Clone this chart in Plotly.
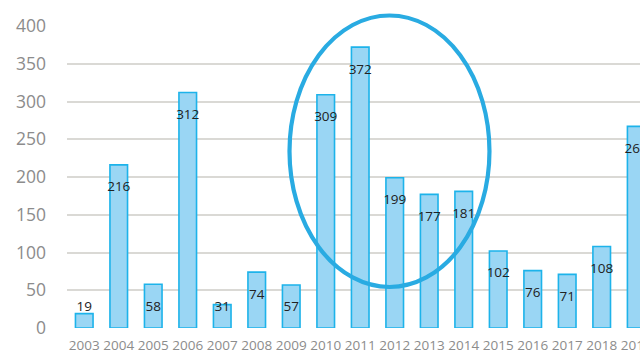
import numpy as np
import plotly.graph_objects as go

years = ["2003", "2004", "2005", "2006", "2007", "2008", "2009", "2010", "2011",
         "2012", "2013", "2014", "2015", "2016", "2017", "2018", "2019"]
counts = [19, 216, 58, 312, 31, 74, 57, 309, 372, 199, 177, 181, 102, 76, 71, 108, 267]
y_ticks = [0, 50, 100, 150, 200, 250, 300, 350, 400]

FONT = "Open Sans"
vals = np.array(counts, dtype=float)
# data labels sit just inside the top of each bar, kept above the baseline for short bars
label_y = np.maximum(vals - 30.5, 26.5)

fig = go.Figure()
fig.add_trace(go.Bar(
    x=list(range(len(years))), y=counts, width=0.51,
    marker=dict(color="#9AD6F4", line=dict(color="#1DB3EA", width=1.6)),
    hoverinfo="skip",
))
fig.add_trace(go.Scatter(
    x=list(range(len(years))), y=label_y, mode="text",
    text=[str(c) for c in counts], textposition="middle center",
    textfont=dict(family=FONT, size=13.5, color="#222222"),
    cliponaxis=False, hoverinfo="skip",
))

# highlight ring around 2010-2014
fig.add_shape(type="circle", xref="paper", yref="paper",
              x0=0.3883, x1=0.7373, y0=0.1358, y1=1.0348,
              line=dict(color="#29ABE2", width=4.2), layer="above")

fig.update_layout(
    width=640, height=355,
    margin=dict(l=67, r=0, t=26, b=27, autoexpand=False),
    paper_bgcolor="white", plot_bgcolor="white",
    showlegend=False,
    xaxis=dict(
        range=[-0.5, 16.11],
        tickmode="array", tickvals=list(range(len(years))), ticktext=years,
        tickfont=dict(family=FONT, size=13.5, color="#8C8C8C"),
        showgrid=False, zeroline=False, showline=False, ticks="",
        ticklabelstandoff=7, ticklabeloverflow="allow", automargin=False,
    ),
    yaxis=dict(
        range=[0, 400],
        tickmode="array", tickvals=y_ticks,
        tickfont=dict(family=FONT, size=17.5, color="#8C8C8C"),
        showgrid=True, gridcolor="#DAD9D5", gridwidth=2,
        zeroline=False, showline=False, ticks="",
        ticklabelstandoff=20, automargin=False,
    ),
)

fig.write_html("out.html")
